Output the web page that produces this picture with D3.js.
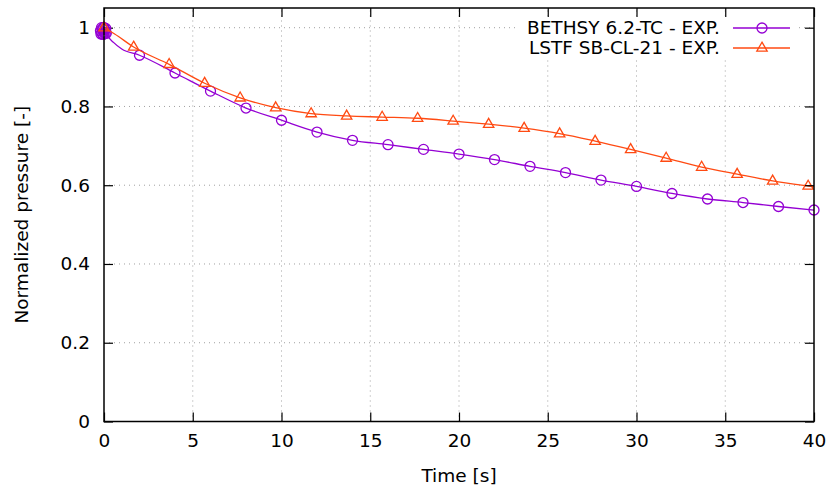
<!DOCTYPE html>
<html>
<head>
<meta charset="utf-8">
<script src="https://cdn.jsdelivr.net/npm/d3@7/dist/d3.min.js"></script>
<style>
  html, body { margin: 0; padding: 0; background: #fff; }
  svg { display: block; }
  text { font-family: "DejaVu Sans", sans-serif; fill: #000; }
</style>
</head>
<body>
<svg id="chart" width="831" height="492"></svg>
<script>
// ---- data ----
const xTicks = [0, 5, 10, 15, 20, 25, 30, 35, 40];
const yTicks = [0, 0.2, 0.4, 0.6, 0.8, 1];
const seriesNames = ["BETHSY 6.2-TC - EXP.", "LSTF SB-CL-21 - EXP."];

// BETHSY 6.2-TC: points drawn with markers (dense, noisy cluster at t = 0)
const bethsyMarkTime = [-0.2, -0.17, -0.14, -0.11, -0.08, -0.05, -0.02, 0.01, 0.04, 0.07, 0.1, 0.13,
  2, 4, 6, 8, 10, 12, 14, 16, 18, 20, 22, 24, 26, 28, 30, 32, 34, 36, 38, 40];
const bethsyMarkValue = [0.992, 0.984, 1.0, 0.986, 0.997, 0.983, 1.001, 0.988, 0.995, 0.985, 0.998, 0.986,
  0.930, 0.885, 0.839, 0.796, 0.765, 0.735, 0.714, 0.703, 0.691, 0.679, 0.665,
  0.648, 0.632, 0.613, 0.597, 0.579, 0.565, 0.556, 0.546, 0.537];
// BETHSY 6.2-TC: intermediate points on the line only
const bethsyLineTime = [0.55, 1.0];
const bethsyLineValue = [0.962, 0.946];

// LSTF SB-CL-21: points drawn with markers
const lstfMarkTime = [0, 1.67, 3.67, 5.67, 7.67, 9.67, 11.67, 13.67, 15.67, 17.67,
  19.67, 21.67, 23.67, 25.67, 27.67, 29.67, 31.67, 33.67, 35.67, 37.67, 39.67];
const lstfMarkValue = [1.0, 0.951, 0.907, 0.859, 0.822, 0.797, 0.782, 0.776, 0.773,
  0.770, 0.763, 0.755, 0.745, 0.731, 0.712, 0.691, 0.669, 0.646, 0.628, 0.611, 0.598];
// LSTF SB-CL-21: intermediate points on the line only
const lstfLineTime = [0.6, 40];
const lstfLineValue = [0.984, 0.596];

// ---- layout ----
const svg = d3.select("#chart");
const pL = 104, pR = 814, pT = 8, pB = 421.5;
const purple = "#9400d3", orange = "#ff4a12";
const fs = 18.5;

const x = d3.scaleLinear().domain([0, 40]).range([pL, pR]);
const y = d3.scaleLinear().domain([0, 1.05]).range([pB, pT]);

const zipPts = (t, v) => t.map((d, i) => ({ t: d, v: v[i] }));
const bethsyMarks = zipPts(bethsyMarkTime, bethsyMarkValue);
const lstfMarks = zipPts(lstfMarkTime, lstfMarkValue);
const bethsyLine = bethsyMarks.concat(zipPts(bethsyLineTime, bethsyLineValue)).sort((a, b) => a.t - b.t);
const lstfLine = lstfMarks.concat(zipPts(lstfLineTime, lstfLineValue)).sort((a, b) => a.t - b.t);

// ---- grid ----
const grid = svg.append("g").attr("stroke", "#a0a0a0").attr("stroke-width", 1)
  .attr("stroke-dasharray", "1,4").attr("fill", "none");
xTicks.filter(d => d > 0 && d < 40).forEach(d => {
  grid.append("line").attr("x1", x(d)).attr("x2", x(d)).attr("y1", pB).attr("y2", pT);
});
yTicks.filter(d => d > 0).forEach(d => {
  grid.append("line").attr("x1", pL).attr("x2", pR).attr("y1", y(d)).attr("y2", y(d));
});

// ---- axes (ticks inward, mirrored) ----
const tickLen = 9;
const xAxisB = d3.axisBottom(x).tickValues(xTicks).tickSize(-tickLen).tickPadding(12).tickFormat(d3.format("d"));
const xAxisT = d3.axisTop(x).tickValues(xTicks).tickSize(-tickLen).tickFormat("");
const yAxisL = d3.axisLeft(y).tickValues(yTicks).tickSize(-tickLen).tickPadding(14).tickFormat(d => String(d));
const yAxisR = d3.axisRight(y).tickValues(yTicks).tickSize(-tickLen).tickFormat("");

function styleAxis(g) {
  g.select(".domain").remove();
  g.selectAll(".tick line").attr("stroke", "#000").attr("stroke-width", 1.2);
  g.selectAll("text").attr("font-size", fs).attr("font-family", "DejaVu Sans, sans-serif").attr("fill", "#000");
}
svg.append("g").attr("transform", `translate(0,${pB})`).call(xAxisB).call(styleAxis);
svg.append("g").attr("transform", `translate(${pL},0)`).call(yAxisL).call(styleAxis);

// ---- series ----
const line = d3.line().x(d => x(d.t)).y(d => y(d.v)).curve(d3.curveMonotoneX);
const circlePath = "M5,0A5,5 0 1,1 -5,0A5,5 0 1,1 5,0Z";
const triPath = "M0,-5.8L5.2,3.2L-5.2,3.2Z";

const plot = svg.append("g");
plot.append("path").datum(bethsyLine).attr("d", line).attr("fill", "none")
  .attr("stroke", purple).attr("stroke-width", 1.3);
plot.selectAll(".cm").data(bethsyMarks).enter().append("path")
  .attr("d", circlePath).attr("transform", d => `translate(${x(d.t)},${y(d.v)})`)
  .attr("fill", "none").attr("stroke", purple).attr("stroke-width", 1.3);

plot.append("path").datum(lstfLine).attr("d", line).attr("fill", "none")
  .attr("stroke", orange).attr("stroke-width", 1.3);
plot.selectAll(".tm").data(lstfMarks).enter().append("path")
  .attr("d", triPath).attr("transform", d => `translate(${x(d.t)},${y(d.v)})`)
  .attr("fill", "none").attr("stroke", orange).attr("stroke-width", 1.3);

// ---- legend (opaque box) ----
const leg = svg.append("g");
leg.append("rect").attr("x", 515).attr("y", 16).attr("width", 283).attr("height", 44).attr("fill", "#fff");
const legColors = [purple, orange];
const legPaths = [circlePath, triPath];
seriesNames.forEach((name, i) => {
  const yy = 28 + i * 20;
  leg.append("text").attr("x", 720).attr("y", yy).attr("dy", "0.35em")
    .attr("text-anchor", "end").attr("font-size", fs).text(name);
  leg.append("line").attr("x1", 733).attr("x2", 790).attr("y1", yy).attr("y2", yy)
    .attr("stroke", legColors[i]).attr("stroke-width", 1.3);
  leg.append("path").attr("d", legPaths[i]).attr("transform", `translate(762,${yy})`)
    .attr("fill", "none").attr("stroke", legColors[i]).attr("stroke-width", 1.3);
});

// top/right mirrored ticks over the key box
svg.append("g").attr("transform", `translate(0,${pT})`).call(xAxisT).call(styleAxis);
svg.append("g").attr("transform", `translate(${pR},0)`).call(yAxisR).call(styleAxis);

// ---- frame ----
svg.append("rect").attr("x", pL).attr("y", pT).attr("width", pR - pL).attr("height", pB - pT)
  .attr("fill", "none").attr("stroke", "#000").attr("stroke-width", 1.5);

// ---- axis titles ----
svg.append("text").attr("x", (pL + pR) / 2).attr("y", 482).attr("text-anchor", "middle")
  .attr("font-size", fs).text("Time [s]");
svg.append("text").attr("transform", `translate(28,${(pT + pB) / 2}) rotate(-90)`)
  .attr("text-anchor", "middle").attr("font-size", fs).text("Normalized pressure [-]");
</script>
</body>
</html>
